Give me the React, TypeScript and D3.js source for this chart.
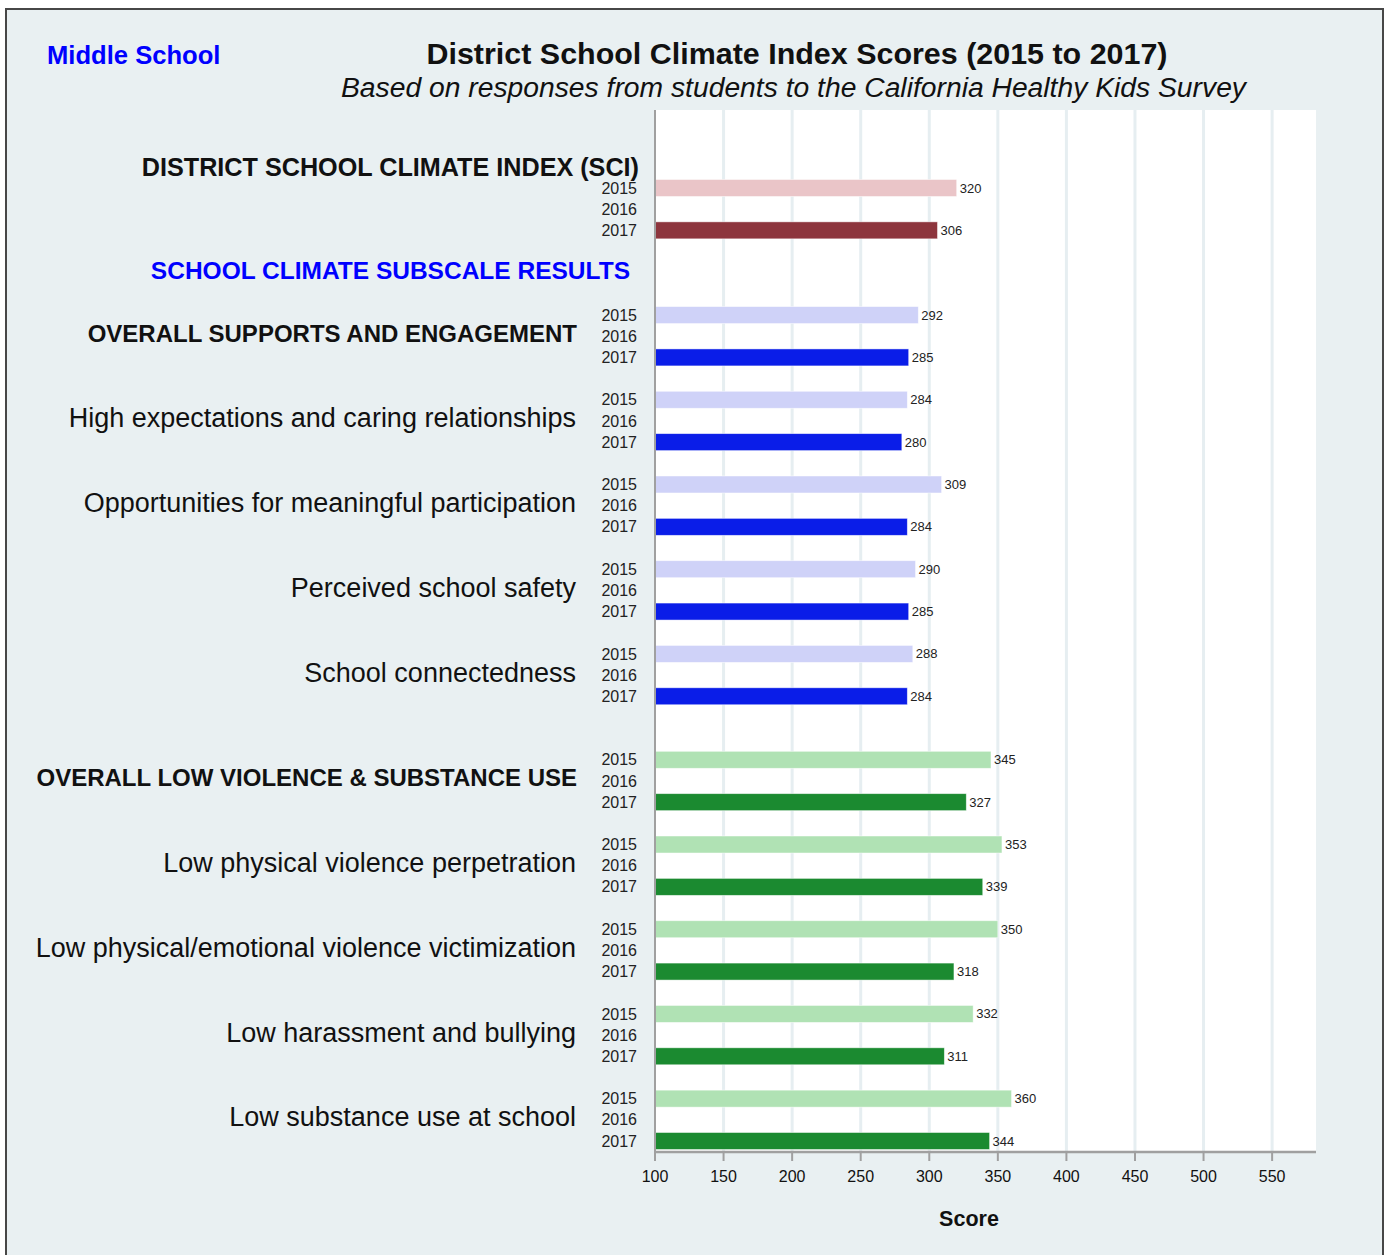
import React from "react";
import * as d3 from "d3";

const categories = [
  "DISTRICT SCHOOL CLIMATE INDEX (SCI)",
  "OVERALL SUPPORTS AND ENGAGEMENT",
  "High expectations and caring relationships",
  "Opportunities for meaningful participation",
  "Perceived school safety",
  "School connectedness",
  "OVERALL LOW VIOLENCE & SUBSTANCE USE",
  "Low physical violence perpetration",
  "Low physical/emotional violence victimization",
  "Low harassment and bullying",
  "Low substance use at school",
];
const groupType = ["sci", "blueHead", "blue", "blue", "blue", "blue", "greenHead", "green", "green", "green", "green"];
const gapsAfter = [3, 1, 1, 1, 1, 2, 1, 1, 1, 1, 0];
const years = ["2015", "2016", "2017"];
const values2015 = [320, 292, 284, 309, 290, 288, 345, 353, 350, 332, 360];
const values2016: (number | null)[] = [null, null, null, null, null, null, null, null, null, null, null];
const values2017 = [306, 285, 280, 284, 285, 284, 327, 339, 318, 311, 344];
const xTicks = [100, 150, 200, 250, 300, 350, 400, 450, 500, 550];

const palette: Record<string, [string, string]> = {
  sci: ["#eac5c8", "#8d353d"],
  blue: ["#cfd2f8", "#0a1de8"],
  blueHead: ["#cfd2f8", "#0a1de8"],
  green: ["#b0e2b4", "#1b8a30"],
  greenHead: ["#b0e2b4", "#1b8a30"],
};

const FONT = "'Liberation Sans', Arial, Helvetica, sans-serif";

export default function App() {
  const W = 1385, H = 1255;
  const plot = { left: 655, right: 1316, top: 110, bottom: 1152 };

  const rowKeys: string[] = [];
  categories.forEach((c, i) => {
    years.forEach((y) => rowKeys.push(`${i}-${y}`));
    for (let g = 0; g < gapsAfter[i]; g++) rowKeys.push(`gap-${i}-${g}`);
  });

  const x = d3.scaleLinear().domain([100, 582]).range([plot.left, plot.right]);
  const y = d3.scalePoint<string>().domain(rowKeys).range([188, 1141]);
  const barH = 17;

  const series = [values2015, values2016, values2017];

  return (
    <svg width={W} height={H} style={{ position: "absolute", left: 0, top: 0 }} fontFamily={FONT}>
      <rect x={0} y={0} width={W} height={H} fill="#ffffff" />
      <rect x={6} y={9} width={1377} height={1270} fill="#e9f0f2" stroke="#474747" strokeWidth={2} />

      <text x={47} y={64} fontSize={25.6} fontWeight="bold" fill="#0000ff">Middle School</text>
      <text x={797} y={64} fontSize={29} fontWeight="bold" textAnchor="middle" fill="#111" textLength={741} lengthAdjust="spacingAndGlyphs">
        District School Climate Index Scores (2015 to 2017)
      </text>
      <text x={793.5} y={97} fontSize={27} fontStyle="italic" textAnchor="middle" fill="#111" textLength={905} lengthAdjust="spacingAndGlyphs">
        Based on responses from students to the California Healthy Kids Survey
      </text>

      <rect x={plot.left} y={plot.top} width={plot.right - plot.left} height={plot.bottom - plot.top} fill="#ffffff" />
      {xTicks.slice(1).map((t) => (
        <line key={t} x1={x(t)} x2={x(t)} y1={plot.top} y2={plot.bottom} stroke="#e6eef1" strokeWidth={3} />
      ))}

      {categories.map((c, i) =>
        years.map((yr, k) => {
          const v = series[k][i];
          const cy = y(`${i}-${yr}`)!;
          if (v == null) return null;
          const col = palette[groupType[i]][k === 0 ? 0 : 1];
          return (
            <g key={`${i}-${yr}`}>
              <rect x={x(100)} y={cy - barH / 2} width={x(v) - x(100)} height={barH} fill={col} stroke="#ffffff" strokeWidth={0.8} strokeOpacity={0.6} />
              <text x={x(v) + 3} y={cy} dy="0.35em" fontSize={13} fill="#222">{v}</text>
            </g>
          );
        })
      )}

      {categories.map((c, i) =>
        years.map((yr) => (
          <text key={`yl-${i}-${yr}`} x={637} y={y(`${i}-${yr}`)!} dy="0.35em" fontSize={16} textAnchor="end" fill="#222">
            {yr}
          </text>
        ))
      )}

      {categories.map((c, i) => {
        const t = groupType[i];
        if (t === "sci") {
          return (
            <text key={`cl-${i}`} x={639} y={y(`${i}-2015`)! - 21} dy="0.35em" fontSize={25.2} fontWeight="bold" textAnchor="end" fill="#111">
              {c}
            </text>
          );
        }
        const head = t.endsWith("Head");
        return (
          <text key={`cl-${i}`} x={head ? 577 : 576} y={y(`${i}-2016`)! - 3} dy="0.35em" fontSize={head ? 24 : 27} fontWeight={head ? "bold" : "normal"} textAnchor="end" fill="#111">
            {c}
          </text>
        );
      })}
      <text x={630} y={270} dy="0.35em" fontSize={24.5} fontWeight="bold" textAnchor="end" fill="#0000ff">
        SCHOOL CLIMATE SUBSCALE RESULTS
      </text>

      <line x1={plot.left} x2={plot.left} y1={plot.top} y2={plot.bottom} stroke="#a0a0a0" strokeWidth={2} />
      <line x1={plot.left - 1} x2={plot.right} y1={plot.bottom} y2={plot.bottom} stroke="#a0a0a0" strokeWidth={2.5} />
      {xTicks.map((t) => (
        <g key={`tk-${t}`}>
          <line x1={x(t)} x2={x(t)} y1={plot.bottom} y2={plot.bottom + 9} stroke="#a0a0a0" strokeWidth={2} />
          <text x={x(t)} y={1176} dy="0.35em" fontSize={16} textAnchor="middle" fill="#111">{t}</text>
        </g>
      ))}
      <text x={969} y={1218} dy="0.35em" fontSize={21.5} fontWeight="bold" textAnchor="middle" fill="#111">Score</text>
    </svg>
  );
}
